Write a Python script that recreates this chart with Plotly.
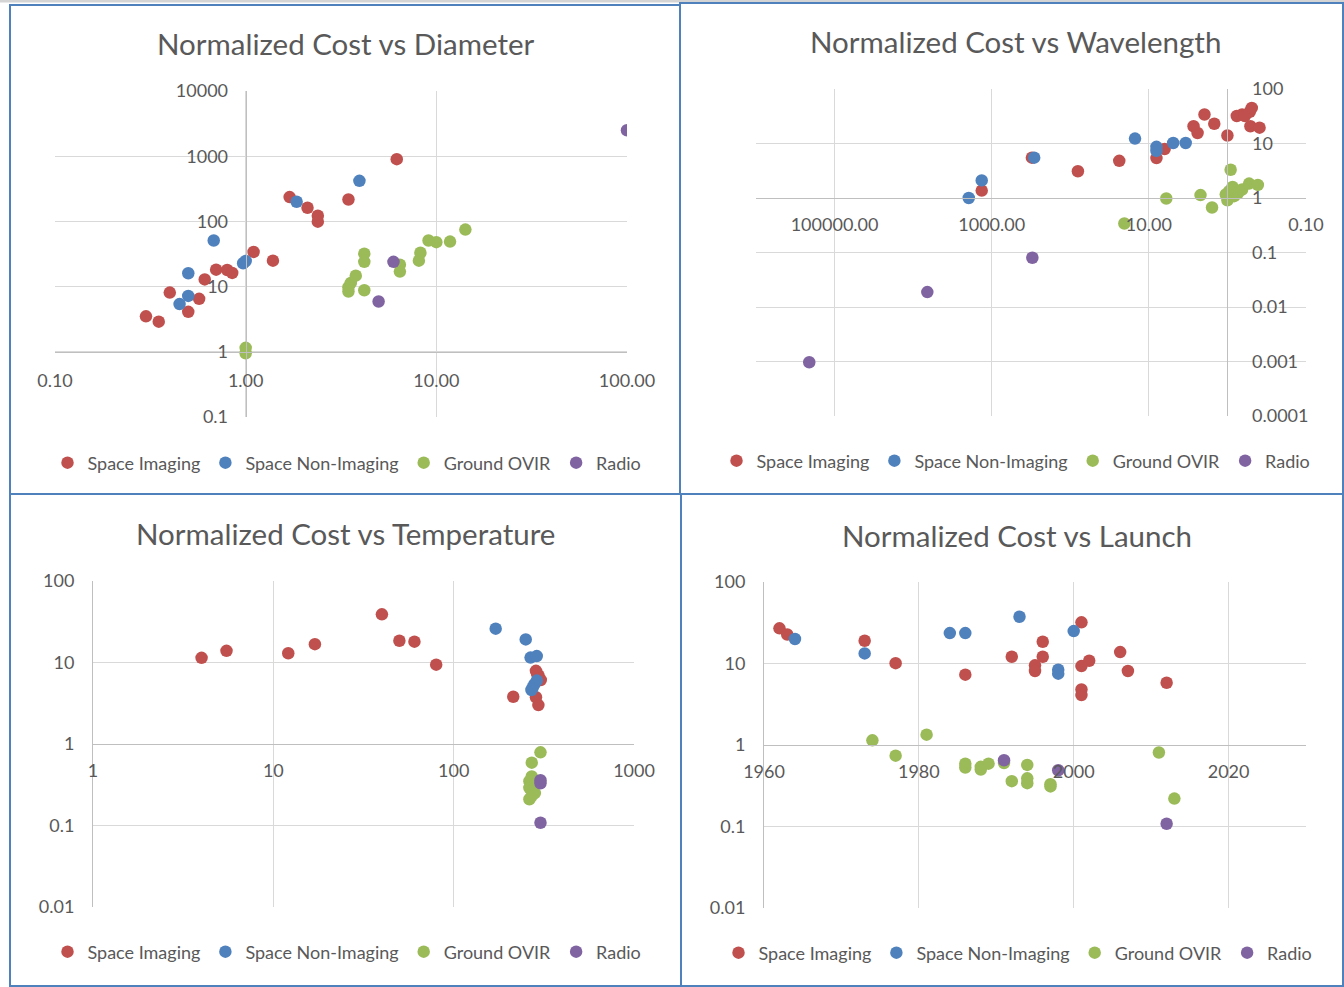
import plotly.graph_objects as go

# ---------------- data ----------------
series_names = ["Space Imaging", "Space Non-Imaging", "Ground OVIR", "Radio"]
series_colors = ["#C0504D", "#4F81BD", "#9BBB59", "#8064A2"]

# Panel 1: Normalized Cost vs Diameter
diam_img_x = [0.30, 0.35, 0.40, 0.50, 0.57, 0.61, 0.70, 0.80, 0.85, 1.10, 1.39, 1.70, 2.11, 2.39, 2.39, 3.46, 6.2]
diam_img_y = [3.5, 2.9, 8.1, 4.1, 6.5, 12.9, 18.2, 18, 16.2, 34, 25, 236, 162, 122, 99, 217, 900]
diam_non_x = [0.68, 0.50, 0.50, 0.45, 0.97, 1.0, 1.85, 3.95]
diam_non_y = [51, 16, 7.2, 5.4, 22.8, 24.7, 200, 419]
diam_gnd_x = [1.0, 1.0, 3.46, 3.46, 3.56, 3.78, 4.19, 4.19, 4.19, 6.44, 6.44, 8.1, 8.25, 9.1, 10.0, 11.8, 14.2]
diam_gnd_y = [1.15, 0.95, 8.4, 9.8, 11.4, 14.7, 8.8, 24, 32, 21.7, 17, 25, 33, 51, 48, 49, 75]
diam_rad_x = [5.96, 4.98, 100]
diam_rad_y = [24, 5.9, 2500]

# Panel 2: Normalized Cost vs Wavelength
wl_img_x = [1340, 308, 80, 23.8, 8.0, 6.3, 2.7, 2.4, 1.96, 1.47, 1.0, 0.76, 0.65, 0.60, 0.52, 0.49, 0.51, 0.39]
wl_img_y = [1.37, 5.5, 3.1, 4.8, 5.4, 7.9, 20.7, 15.6, 34, 23, 14, 32, 34, 32, 38, 45, 20.7, 19.5]
wl_non_x = [1960, 1340, 288, 15, 8.0, 8.0, 4.9, 3.4]
wl_non_y = [1.0, 2.1, 5.5, 12.3, 8.7, 7.3, 10.2, 10.2]
wl_gnd_x = [20.5, 6.0, 2.2, 1.57, 0.91, 1.05, 1.0, 0.86, 0.82, 0.73, 0.65, 0.53, 0.41, 0.95]
wl_gnd_y = [0.34, 0.98, 1.13, 0.67, 3.3, 1.16, 0.91, 1.6, 1.08, 1.24, 1.43, 1.84, 1.74, 1.33]
wl_rad_x = [210000, 6600, 304]
wl_rad_y = [0.00097, 0.0188, 0.08]

# Panel 3: Normalized Cost vs Temperature
t_img_x = [4.0, 5.5, 12.1, 17, 40, 50, 60.6, 80, 214, 286, 296, 304, 286, 295, 290]
t_img_y = [11.4, 13.9, 13, 16.8, 39, 18.5, 18, 9.4, 3.8, 7.9, 6.9, 6.1, 3.75, 3.0, 7.3]
t_non_x = [171, 251, 267, 289, 274, 280, 289, 270]
t_non_y = [26, 19.2, 11.5, 12, 4.9, 5.4, 6.0, 4.6]
t_gnd_x = [303, 271, 271, 263, 275, 263, 282, 263, 271]
t_gnd_y = [0.79, 0.59, 0.40, 0.35, 0.32, 0.29, 0.25, 0.21, 0.23]
t_rad_x = [303, 303, 303]
t_rad_y = [0.36, 0.33, 0.108]

# Panel 4: Normalized Cost vs Launch
l_img_x = [1962, 1963, 1973, 1977, 1986, 1992, 1995, 1995, 1996, 1996, 2001, 2001, 2002, 2001, 2001, 2006, 2007, 2012]
l_img_y = [27, 22.7, 19, 10.1, 7.3, 12.1, 9.5, 8.1, 18.5, 12.1, 32, 9.3, 10.8, 4.8, 4.1, 13.8, 8.1, 5.8]
l_non_x = [1964, 1973, 1984, 1986, 1993, 2000, 1998, 1998]
l_non_y = [20, 13.3, 23.6, 23.6, 37.5, 25, 8.4, 7.5]
l_gnd_x = [1974, 1977, 1981, 1986, 1986, 1988, 1988, 1989, 1991, 1992, 1994, 1994, 1994, 1997, 1997, 2011, 2013]
l_gnd_y = [1.14, 0.74, 1.34, 0.59, 0.53, 0.54, 0.50, 0.59, 0.60, 0.36, 0.57, 0.39, 0.34, 0.33, 0.31, 0.81, 0.22]
l_rad_x = [1991, 1998, 2012]
l_rad_y = [0.65, 0.49, 0.108]

titles = ["Normalized Cost vs Diameter", "Normalized Cost vs Wavelength",
          "Normalized Cost vs Temperature", "Normalized Cost vs Launch"]

p1_xticks = [0.1, 1, 10, 100]
p1_xtext = ["0.10", "1.00", "10.00", "100.00"]
p1_yticks = [0.1, 1, 10, 100, 1000, 10000]
p1_ytext = ["0.1", "1", "10", "100", "1000", "10000"]
p2_xticks = [100000, 1000, 10, 0.1]
p2_xtext = ["100000.00", "1000.00", "10.00", "0.10"]
p2_yticks = [0.0001, 0.001, 0.01, 0.1, 1, 10, 100]
p2_ytext = ["0.0001", "0.001", "0.01", "0.1", "1", "10", "100"]
p3_xticks = [1, 10, 100, 1000]
p3_xtext = ["1", "10", "100", "1000"]
p34_yticks = [0.01, 0.1, 1, 10, 100]
p34_ytext = ["0.01", "0.1", "1", "10", "100"]
p4_xticks = [1960, 1980, 2000, 2020]

panels = [
    [(diam_img_x, diam_img_y), (diam_non_x, diam_non_y), (diam_gnd_x, diam_gnd_y), (diam_rad_x, diam_rad_y)],
    [(wl_img_x, wl_img_y), (wl_non_x, wl_non_y), (wl_gnd_x, wl_gnd_y), (wl_rad_x, wl_rad_y)],
    [(t_img_x, t_img_y), (t_non_x, t_non_y), (t_gnd_x, t_gnd_y), (t_rad_x, t_rad_y)],
    [(l_img_x, l_img_y), (l_non_x, l_non_y), (l_gnd_x, l_gnd_y), (l_rad_x, l_rad_y)],
]

# ---------------- layout helpers ----------------
W, H = 1344, 987
FONT = "Lato"
TXT = "#595959"
GRID = "#D9D9D9"
AXL = "#BFBFBF"
BORDER = "#4F81BD"


def fx(p):
    return p / W


def fy(p):
    return 1 - p / H


fig = go.Figure()
legends = ["legend", "legend2", "legend3", "legend4"]
for pi, panel in enumerate(panels):
    xa = "x" if pi == 0 else f"x{pi+1}"
    ya = "y" if pi == 0 else f"y{pi+1}"
    for si, (xs, ys) in enumerate(panel):
        fig.add_trace(go.Scatter(
            x=xs, y=ys, mode="markers", name=series_names[si],
            marker=dict(color=series_colors[si], size=12.5, line=dict(width=0)),
            xaxis=xa, yaxis=ya, legend=legends[pi], showlegend=True,
        ))

# plot areas in pixels (left, right, top, bottom)
areas = [(55, 627, 91, 417), (756, 1306, 89, 416), (93, 634, 581, 907), (764, 1306, 582, 908)]
dom = [([fx(l), fx(r)], [fy(b), fy(t)]) for (l, r, t, b) in areas]


def pos_frac(d, lo, hi, v):
    return d[0] + (v - lo) / (hi - lo) * (d[1] - d[0])


tickfont = dict(family=FONT, size=18, color=TXT)
common = dict(showgrid=True, gridcolor=GRID, gridwidth=1, zeroline=False, showline=True,
              linecolor=AXL, linewidth=1, ticks="", tickfont=tickfont, tickmode="array",
              automargin=False)

fig.update_layout(
    template="none",
    xaxis=dict(common, type="log", range=[-1, 2], domain=dom[0][0], anchor="free",
               position=pos_frac(dom[0][1], -1, 4, 0), tickvals=p1_xticks, ticktext=p1_xtext,
               ticklabelstandoff=13),
    yaxis=dict(common, type="log", range=[-1, 4], domain=dom[0][1], anchor="free",
               position=pos_frac(dom[0][0], -1, 2, 0), tickvals=p1_yticks, ticktext=p1_ytext,
               ticklabelstandoff=14),
    xaxis2=dict(common, type="log", range=[6, -1], domain=dom[1][0], anchor="free",
                position=pos_frac(dom[1][1], -4, 2, 0), tickvals=p2_xticks, ticktext=p2_xtext,
                ticklabelstandoff=10),
    yaxis2=dict(common, type="log", range=[-4, 2], domain=dom[1][1], anchor="free", side="right",
                position=pos_frac(dom[1][0], 6, -1, 0), tickvals=p2_yticks, ticktext=p2_ytext,
                ticklabelstandoff=20),
    xaxis3=dict(common, type="log", range=[0, 3], domain=dom[2][0], anchor="free",
                position=pos_frac(dom[2][1], -2, 2, 0), tickvals=p3_xticks, ticktext=p3_xtext,
                ticklabelstandoff=10),
    yaxis3=dict(common, type="log", range=[-2, 2], domain=dom[2][1], anchor="x3",
                tickvals=p34_yticks, ticktext=p34_ytext, ticklabelstandoff=14),
    xaxis4=dict(common, type="linear", range=[1960, 2030], domain=dom[3][0], anchor="free",
                position=pos_frac(dom[3][1], -2, 2, 0), tickvals=p4_xticks,
                ticklabelstandoff=10),
    yaxis4=dict(common, type="log", range=[-2, 2], domain=dom[3][1], anchor="x4",
                tickvals=p34_yticks, ticktext=p34_ytext, ticklabelstandoff=14),
)

# titles
title_pos = [(346, 44), (1015, 41), (346, 533), (1017, 535)]
for t, (x, y) in zip(titles, title_pos):
    fig.add_annotation(text=t, x=fx(x), y=fy(y), xref="paper", yref="paper",
                       xanchor="center", yanchor="middle", showarrow=False,
                       font=dict(family=FONT, size=29.5, color=TXT))

# legends
leg_pos = [(347, 463), (1016, 461), (347, 952), (1018, 953)]
legfont = dict(family=FONT, size=18, color=TXT)
for name, (x, y) in zip(legends, leg_pos):
    fig.update_layout({name: dict(orientation="h", x=fx(x), y=fy(y), xanchor="center",
                                  yanchor="middle", font=legfont, bgcolor="rgba(0,0,0,0)",
                                  itemwidth=30, tracegroupgap=0)})

# panel borders and top strip
fig.add_shape(type="rect", xref="paper", yref="paper", x0=0, x1=1, y0=fy(2.5), y1=1,
              fillcolor="#D4D4D4", line=dict(width=0), layer="below")
borders = [(10, 680, 5, 494), (680, 1343, 3, 494), (10, 681, 494, 986), (681, 1343, 494, 986)]
for (l, r, t, b) in borders:
    fig.add_shape(type="rect", xref="paper", yref="paper", x0=fx(l), x1=fx(r), y0=fy(b), y1=fy(t),
                  line=dict(color=BORDER, width=2), fillcolor="rgba(0,0,0,0)", layer="above")

fig.update_layout(width=W, height=H, margin=dict(l=0, r=0, t=0, b=0, autoexpand=False),
                  paper_bgcolor="white", plot_bgcolor="white", showlegend=True)

fig.write_html("out.html", config={"displayModeBar": False},
               post_script="document.body.style.margin='0';document.body.style.overflow='hidden';")
